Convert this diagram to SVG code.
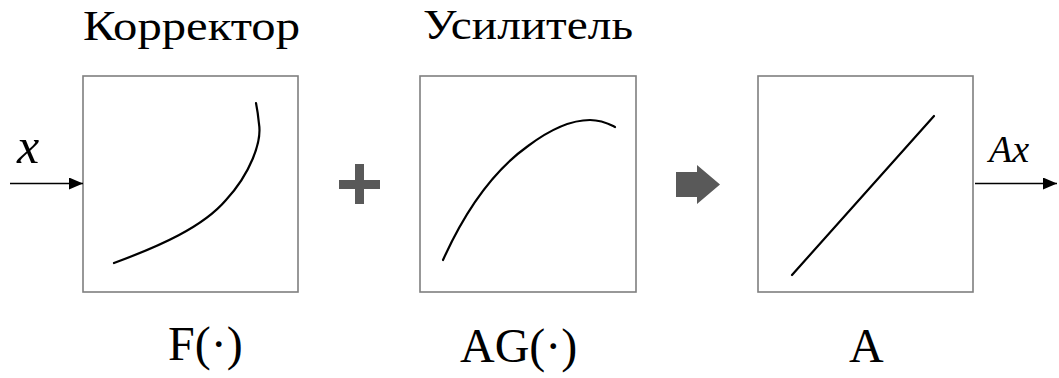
<svg xmlns="http://www.w3.org/2000/svg" width="1059" height="378" viewBox="0 0 1059 378">
<style>
.box{fill:#fff;stroke:#7f7f7f;stroke-width:1.6}
.curve{fill:none;stroke:#000;stroke-width:2.2;stroke-linecap:round}
.t{font-family:'Liberation Serif','Times New Roman',Tinos,'Noto Serif','DejaVu Serif',FreeSerif,'Nimbus Roman','Nimbus Roman No9 L',Georgia,serif;fill:#000}
.i{font-style:italic}
.conn{stroke:#000;stroke-width:1.6;fill:none}
.sym{fill:#595959}
</style>
<defs>
<marker id="ah" markerWidth="14" markerHeight="12" refX="14" refY="6" orient="auto" markerUnits="userSpaceOnUse">
<path d="M0,0 L14,6 L0,12 Z" fill="#000"/>
</marker>
</defs>
<g id="corrector">
<rect class="box" x="83" y="76" width="215" height="216"/>
<path class="curve" d="M114,263 C160,246 203,227 226,200 C250,174 262,142 259,124 C258,114 257,108 256,103"/>
<text class="t" x="83" y="40" font-size="43" textLength="217" lengthAdjust="spacingAndGlyphs">Корректор</text>
<text class="t" x="168" y="360" font-size="48">F(·)</text>
</g>
<g id="amplifier">
<rect class="box" x="420" y="76" width="216" height="216"/>
<path class="curve" d="M443,260 C470,200 500,166 528,146 C552,128 572,120 590,120 C602,120 609,124 615,127"/>
<text class="t" x="423" y="39" font-size="43" textLength="210" lengthAdjust="spacingAndGlyphs">Усилитель</text>
<text class="t" x="460" y="362" font-size="48">AG(·)</text>
</g>
<g id="linear">
<rect class="box" x="758" y="76" width="215" height="216"/>
<path class="curve" d="M792,275 L934,116"/>
<text class="t" x="849" y="362" font-size="48">A</text>
</g>
<g id="plus">
<rect class="sym" x="339" y="180" width="41" height="9"/>
<rect class="sym" x="355" y="164" width="9" height="40"/>
</g>
<g id="implies">
<path class="sym" d="M676,172 L697,172 L697,165 L720,184.5 L697,204 L697,197 L676,197 Z"/>
</g>
<g id="connectors">
<line class="conn" x1="10" y1="183.5" x2="83" y2="183.5" marker-end="url(#ah)"/>
<line class="conn" x1="975" y1="183.5" x2="1057" y2="183.5" marker-end="url(#ah)"/>
<text class="t i" x="17" y="163" font-size="50">x</text>
<text class="t i" x="989" y="162" font-size="38">Ax</text>
</g>
</svg>
